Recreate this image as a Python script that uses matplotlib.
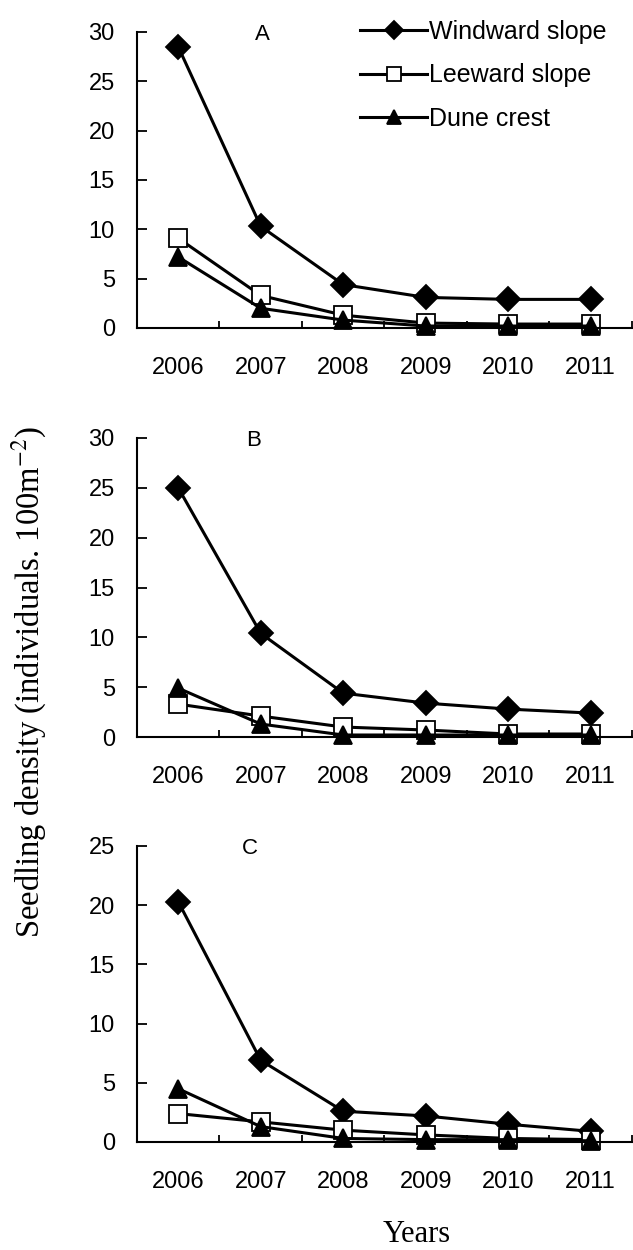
import numpy as np
import matplotlib
matplotlib.use("Agg")
import matplotlib.pyplot as plt
from matplotlib.ticker import FixedLocator, NullFormatter

years = ["2006", "2007", "2008", "2009", "2010", "2011"]

# panel A
windward_a = [28.5, 10.3, 4.4, 3.1, 2.9, 2.9]
leeward_a = [9.1, 3.3, 1.3, 0.5, 0.4, 0.4]
crest_a = [7.2, 2.0, 0.8, 0.2, 0.2, 0.2]

# panel B
windward_b = [25.0, 10.4, 4.4, 3.4, 2.8, 2.4]
leeward_b = [3.3, 2.1, 1.0, 0.7, 0.3, 0.3]
crest_b = [4.9, 1.3, 0.2, 0.2, 0.2, 0.2]

# panel C
windward_c = [20.3, 6.9, 2.6, 2.2, 1.5, 0.9]
leeward_c = [2.4, 1.7, 1.0, 0.6, 0.3, 0.2]
crest_c = [4.5, 1.3, 0.3, 0.2, 0.2, 0.1]

series_names = ["Windward slope", "Leeward slope", "Dune crest"]
panel_letters = ["A", "B", "C"]
y_max = [30, 30, 25]

plt.rcParams["font.family"] = ["Liberation Sans", "DejaVu Sans"]
plt.rcParams["mathtext.fontset"] = "stix"

fig = plt.figure(figsize=(6.33, 12.5), dpi=100)

# axes boxes in figure fractions (left, bottom, width, height)
boxes = [
    (0.2164, 0.7376, 0.782, 0.2368),
    (0.2164, 0.4104, 0.782, 0.2392),
    (0.2164, 0.0864, 0.782, 0.2368),
]
label_x = [0.2525, 0.236, 0.228]

styles = [
    dict(marker="D", markersize=12, markerfacecolor="black"),
    dict(marker="s", markersize=13, markerfacecolor="white"),
    dict(marker="^", markersize=13, markerfacecolor="black"),
]

data = [
    (windward_a, leeward_a, crest_a),
    (windward_b, leeward_b, crest_b),
    (windward_c, leeward_c, crest_c),
]

x = np.arange(len(years))
axes = []
for i, (box, panel) in enumerate(zip(boxes, data)):
    ax = fig.add_axes(box)
    axes.append(ax)
    for vals, name, st in zip(panel, series_names, styles):
        ax.plot(x, vals, color="black", lw=2.2, markeredgecolor="black",
                markeredgewidth=1.3, clip_on=False, label=name, **st)

    ax.set_xlim(-0.5, 5.5)
    ax.set_ylim(0, y_max[i])
    ax.set_yticks(np.arange(0, y_max[i] + 1, 5))
    ax.set_xticks(x)
    ax.set_xticklabels(years)
    ax.xaxis.set_minor_locator(FixedLocator(np.arange(-0.5, 6, 1)))
    ax.xaxis.set_minor_formatter(NullFormatter())
    ax.tick_params(axis="x", which="major", length=0, pad=21, labelsize=17)
    ax.tick_params(axis="x", which="minor", length=5, width=1.3, direction="in")
    ax.tick_params(axis="y", length=7, width=1.3, direction="in", pad=16, labelsize=17)

    for side in ["top", "right"]:
        ax.spines[side].set_visible(False)
    for side in ["left", "bottom"]:
        ax.spines[side].set_linewidth(1.5)

    ax.text(label_x[i], 0.99, panel_letters[i], transform=ax.transAxes,
            ha="center", va="center", fontsize=16)

leg = axes[0].legend(loc="upper left", bbox_to_anchor=(0.43, 1.075), frameon=False,
                     handlelength=2.7, handletextpad=0.05, labelspacing=0.78,
                     fontsize=18, borderaxespad=0, markerscale=0.75)

fig.text(0.047, 0.454, "Seedling density (individuals. 100m$^{-2}$)", rotation=90,
         ha="center", va="center", fontsize=23.5, family="Liberation Serif")
fig.text(0.659, 0.012, "Years", ha="center", va="center", fontsize=22,
         family="Liberation Serif")

fig.savefig("out.png", dpi=100)
